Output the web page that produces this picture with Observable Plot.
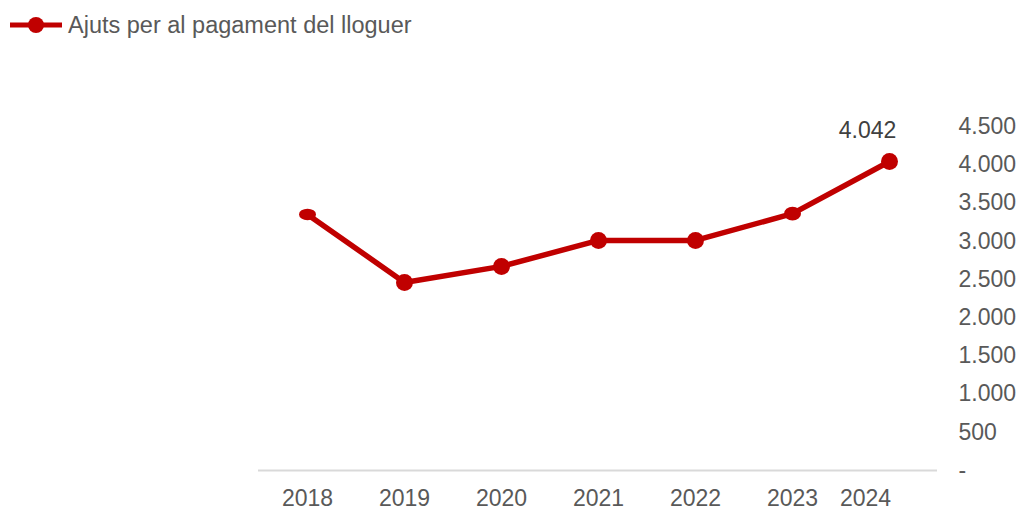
<!DOCTYPE html>
<html>
<head>
<meta charset="utf-8">
<script src="https://cdn.jsdelivr.net/npm/d3@7"></script>
<script src="https://cdn.jsdelivr.net/npm/@observablehq/plot@0.6"></script>
<style>
  body { margin: 0; background: #fff; font-family: Arial, "Liberation Sans", sans-serif; }
  #legend { height: 50px; position: relative; }
  #legend svg { position: absolute; left: 10px; top: 15px; }
  #legend span { position: absolute; left: 68px; top: 11px; font-size: 23.5px; line-height: 28px; color: #595959; white-space: nowrap; }
</style>
</head>
<body>
<div id="legend">
  <svg width="54" height="20"><line x1="0" x2="52" y1="10" y2="10" stroke="#C00000" stroke-width="5"/><circle cx="26" cy="10" r="8" fill="#C00000"/></svg>
  <span>Ajuts per al pagament del lloguer</span>
</div>
<div id="chart"></div>
<script>
const seriesName = "Ajuts per al pagament del lloguer";
const years = ["2018", "2019", "2020", "2021", "2022", "2023", "2024"];
const ajuts = [3350, 2460, 2670, 3010, 3010, 3360, 4042];
const yTicks = [0, 500, 1000, 1500, 2000, 2500, 3000, 3500, 4000, 4500];
const labelledYears = ["2024"];

// marker vertical squash seen in the reference (styling only)
const markerSquash = {"2018": 0.68, "2023": 0.82};

const data = years.map((year, i) => ({year, value: ajuts[i]}));
const fmt = d => d === 0 ? "-" : d3.format(",")(d).replace(/,/g, ".");

const chart = Plot.plot({
  width: 1020,
  height: 460,
  marginLeft: 258,
  marginRight: 83,
  marginTop: 76,
  marginBottom: 40,
  x: {type: "point", domain: years, padding: 0.5, label: null},
  y: {domain: [0, 4500], label: null},
  style: {fontFamily: "Arial, 'Liberation Sans', sans-serif", fontSize: "23px", color: "#595959", background: "white", overflow: "visible"},
  marks: [
    Plot.ruleY([0], {stroke: "#d9d9d9", strokeWidth: 2}),
    Plot.axisY(yTicks, {anchor: "right", tickSize: 0, tickPadding: 21, tickFormat: fmt, fontSize: 23, fill: "#595959", label: null}),
    Plot.axisX(years.filter(y => !labelledYears.includes(y)), {anchor: "bottom", tickSize: 0, tickPadding: 19, fontSize: 23, fill: "#595959", label: null}),
    Plot.axisX(labelledYears, {anchor: "bottom", tickSize: 0, tickPadding: 19, fontSize: 23, fill: "#595959", dx: -24, label: null}),
    Plot.line(data, {x: "year", y: "value", stroke: "#C00000", strokeWidth: 5.5}),
    Plot.dot(data, {
      x: "year", y: "value", r: 8.5, fill: "#C00000",
      render(index, scales, values, dims, context, next) {
        const g = next(index, scales, values, dims, context);
        d3.select(g).selectAll("circle").each(function(_, j) {
          const i = index[j];
          const k = markerSquash[data[i].year];
          if (k) {
            const cx = +this.getAttribute("cx"), cy = +this.getAttribute("cy");
            this.setAttribute("transform", `translate(${cx},${cy}) scale(1,${k}) translate(${-cx},${-cy})`);
          }
        });
        return g;
      }
    }),
    Plot.text(data.filter(d => labelledYears.includes(d.year)), {x: "year", y: "value", text: d => fmt(d.value), dx: -22, dy: -31, fill: "#404040", fontSize: 23})
  ]
});
document.getElementById("chart").appendChild(chart);
</script>
</body>
</html>
